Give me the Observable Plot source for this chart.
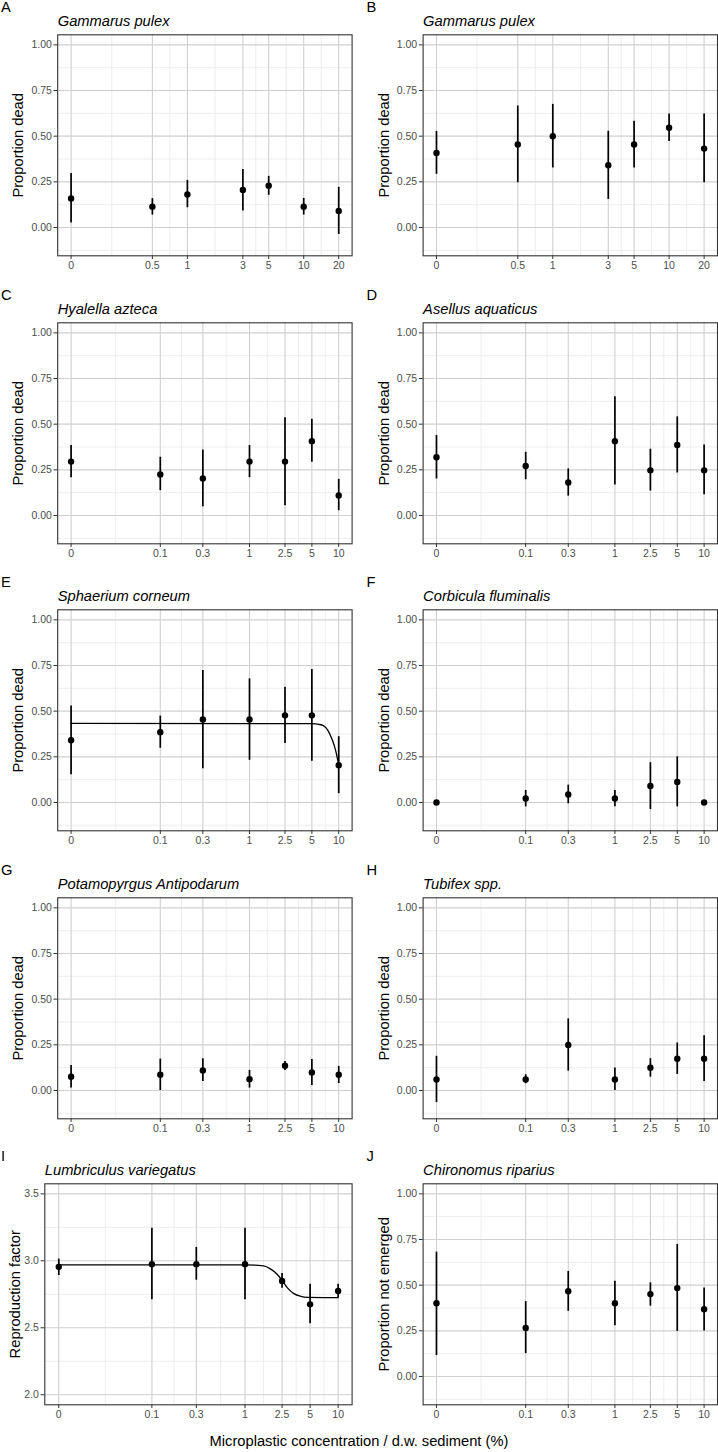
<!DOCTYPE html>
<html><head><meta charset="utf-8">
<script src="https://cdn.jsdelivr.net/npm/d3@7"></script>
<script src="https://cdn.jsdelivr.net/npm/@observablehq/plot@0.6"></script>
<style>
body{margin:0;background:#fff;}
#fig{position:relative;width:718px;height:1452px;background:#fff;font-family:"Liberation Sans",Arial,Helvetica,sans-serif;overflow:hidden;}
.cell{position:absolute;}
#xtitle{position:absolute;left:0;width:718px;text-align:center;font-size:14.7px;line-height:14.7px;color:#000;}
</style></head><body><div id="fig"></div>
<script>
// ---------- data ----------
const concAB = [0, 0.5, 1, 3, 5, 10, 20];
const concCJ = [0, 0.1, 0.3, 1, 2.5, 5, 10];
const xTickLabelsAB = ["0", "0.5", "1", "3", "5", "10", "20"];
const xTickLabelsCJ = ["0", "0.1", "0.3", "1", "2.5", "5", "10"];
const yTicksProp = [0, 0.25, 0.5, 0.75, 1];
const yTickLabelsProp = ["0.00", "0.25", "0.50", "0.75", "1.00"];
const yTicksRepro = [2, 2.5, 3, 3.5];
const yTickLabelsRepro = ["2.0", "2.5", "3.0", "3.5"];
const xAxisTitle = "Microplastic concentration / d.w. sediment (%)";

const meanA = [0.159, 0.114, 0.181, 0.205, 0.229, 0.114, 0.090];
const lowA  = [0.024, 0.068, 0.108, 0.090, 0.176, 0.068, -0.038];
const highA = [0.295, 0.158, 0.258, 0.317, 0.280, 0.159, 0.220];

const meanB = [0.408, 0.454, 0.500, 0.341, 0.454, 0.546, 0.432];
const lowB  = [0.291, 0.245, 0.326, 0.154, 0.326, 0.471, 0.245];
const highB = [0.526, 0.665, 0.674, 0.527, 0.582, 0.621, 0.621];

const meanC = [0.295, 0.225, 0.203, 0.295, 0.295, 0.407, 0.110];
const lowC  = [0.207, 0.136, 0.048, 0.207, 0.053, 0.291, 0.026];
const highC = [0.383, 0.319, 0.359, 0.383, 0.535, 0.527, 0.198];

const meanD = [0.319, 0.271, 0.181, 0.407, 0.247, 0.386, 0.247];
const lowD  = [0.200, 0.196, 0.106, 0.167, 0.134, 0.233, 0.114];
const highD = [0.438, 0.346, 0.255, 0.650, 0.363, 0.540, 0.386];

const meanE = [0.341, 0.385, 0.455, 0.455, 0.477, 0.477, 0.204];
const lowE  = [0.152, 0.297, 0.185, 0.231, 0.323, 0.226, 0.048];
const highE = [0.528, 0.473, 0.723, 0.677, 0.631, 0.728, 0.360];

const meanF = [0.000, 0.022, 0.044, 0.022, 0.090, 0.112, 0.000];
const lowF  = [0.000, -0.024, -0.007, -0.024, -0.039, -0.024, 0.000];
const highF = [0.000, 0.066, 0.095, 0.066, 0.218, 0.250, 0.000];

const meanG = [0.075, 0.086, 0.110, 0.062, 0.136, 0.099, 0.086];
const lowG  = [0.013, 0.000, 0.049, 0.013, 0.110, 0.027, 0.038];
const highG = [0.137, 0.172, 0.174, 0.110, 0.159, 0.170, 0.132];

const meanH = [0.060, 0.060, 0.249, 0.060, 0.125, 0.174, 0.174];
const lowH  = [-0.066, 0.037, 0.106, 0.000, 0.073, 0.088, 0.049];
const highH = [0.187, 0.086, 0.392, 0.123, 0.174, 0.260, 0.300];

const meanI = [2.955, 2.975, 2.975, 2.975, 2.850, 2.675, 2.775];
const lowI  = [2.890, 2.710, 2.855, 2.710, 2.795, 2.530, 2.725];
const highI = [3.013, 3.243, 3.100, 3.243, 2.905, 2.825, 2.825];

const meanJ = [0.401, 0.266, 0.467, 0.401, 0.451, 0.484, 0.368];
const lowJ  = [0.115, 0.125, 0.357, 0.278, 0.385, 0.247, 0.249];
const highJ = [0.681, 0.410, 0.575, 0.522, 0.513, 0.723, 0.484];

// fitted curves
const fitE_x = [0, 5, 6, 6.66, 7.5, 8.46, 9.2, 10];
const fitE_y = [0.433, 0.432, 0.428, 0.422, 0.398, 0.343, 0.288, 0.205];
const fitI_x = [0, 1, 1.58, 1.87, 2.21, 2.5, 2.84, 3.35, 3.96, 4.68, 10];
const fitI_y = [2.97, 2.97, 2.962, 2.94, 2.90, 2.855, 2.80, 2.755, 2.735, 2.727, 2.725];

// ---------- layout ----------
const FONT = "Liberation Sans, Arial, Helvetica, sans-serif";
const colLeft = [0, 359];
const colW = 359;
const frameLeft = [57.2, 422.6];
const frameRight = [351.6, 717];
const frameTop = [34.3, 322.3, 609.7, 897, 1183.3];
const frameH = 221;
const marginTop = 34.3, marginBottom = 32;
const TICK = 3.7, PAD = 2.2;

const panels = [
  {letter: "A", title: "Gammarus pulex", ylab: "Proportion dead", conc: concAB, xl: xTickLabelsAB, zero: 0.1, mean: meanA, low: lowA, high: highA},
  {letter: "B", title: "Gammarus pulex", ylab: "Proportion dead", conc: concAB, xl: xTickLabelsAB, zero: 0.1, mean: meanB, low: lowB, high: highB},
  {letter: "C", title: "Hyalella azteca", ylab: "Proportion dead", conc: concCJ, xl: xTickLabelsCJ, zero: 0.01, mean: meanC, low: lowC, high: highC},
  {letter: "D", title: "Asellus aquaticus", ylab: "Proportion dead", conc: concCJ, xl: xTickLabelsCJ, zero: 0.01, mean: meanD, low: lowD, high: highD},
  {letter: "E", title: "Sphaerium corneum", ylab: "Proportion dead", conc: concCJ, xl: xTickLabelsCJ, zero: 0.01, mean: meanE, low: lowE, high: highE, fitX: fitE_x, fitY: fitE_y},
  {letter: "F", title: "Corbicula fluminalis", ylab: "Proportion dead", conc: concCJ, xl: xTickLabelsCJ, zero: 0.01, mean: meanF, low: lowF, high: highF},
  {letter: "G", title: "Potamopyrgus Antipodarum", ylab: "Proportion dead", conc: concCJ, xl: xTickLabelsCJ, zero: 0.01, mean: meanG, low: lowG, high: highG},
  {letter: "H", title: "Tubifex spp.", ylab: "Proportion dead", conc: concCJ, xl: xTickLabelsCJ, zero: 0.01, mean: meanH, low: lowH, high: highH},
  {letter: "I", title: "Lumbriculus variegatus", ylab: "Reproduction factor", conc: concCJ, xl: xTickLabelsCJ, zero: 0.01, mean: meanI, low: lowI, high: highI, fitX: fitI_x, fitY: fitI_y, repro: true},
  {letter: "J", title: "Chironomus riparius", ylab: "Proportion not emerged", conc: concCJ, xl: xTickLabelsCJ, zero: 0.01, mean: meanJ, low: lowJ, high: highJ}
];

const fig = document.getElementById("fig");

panels.forEach((p, k) => {
  const col = k % 2, row = Math.floor(k / 2);
  const fl = p.repro ? 44.3 : frameLeft[col];
  const mL = fl - colLeft[col];
  const mR = colLeft[col] + colW - frameRight[col];
  const H = marginTop + frameH + marginBottom;
  const frameW = colW - mL - mR;

  const xs = p.conc.map(c => c === 0 ? p.zero : c);
  const rows = xs.map((x, i) => ({x, m: p.mean[i], lo: p.low[i], hi: p.high[i]}));
  const l0 = Math.log10(xs[0]), l1 = Math.log10(xs[xs.length - 1]);
  const px = 0.05 * (l1 - l0);
  const xDomain = [10 ** (l0 - px), 10 ** (l1 + px)];

  const yT = p.repro ? yTicksRepro : yTicksProp;
  const yL = p.repro ? yTickLabelsRepro : yTickLabelsProp;
  const yLim = p.repro ? [2, 3.5] : [-0.1, 1];
  const py = 0.05 * (yLim[1] - yLim[0]);
  const yDomain = [yLim[0] - py, yLim[1] + py];
  const step = yT[1] - yT[0];
  const yMinor = [yT[0] - step / 2, ...d3.pairs(yT).map(([a, b]) => (a + b) / 2), yT[yT.length - 1] + step / 2]
    .filter(v => v > yDomain[0] && v < yDomain[1]);
  const xMinor = d3.pairs(xs).map(([a, b]) => Math.sqrt(a * b));

  const xTicks = xs.map((x, i) => ({x, label: p.xl[i]}));
  const yTicks = yT.map((y, i) => ({y, label: yL[i]}));

  const fit = p.fitX ? p.fitX.map((x, i) => ({x: x === 0 ? p.zero : x, y: p.fitY[i]})) : [];

  const chart = Plot.plot({
    width: colW, height: H,
    marginLeft: mL, marginRight: mR, marginTop: marginTop, marginBottom: marginBottom,
    style: {fontFamily: FONT, fontSize: "10.5px", background: "transparent", overflow: "visible", color: "#000"},
    x: {type: "log", domain: xDomain, label: null, axis: null},
    y: {domain: yDomain, label: null, axis: null},
    marks: [
      Plot.ruleX(xMinor, {stroke: "#e8e8e8", strokeWidth: 0.8}),
      Plot.ruleY(yMinor, {stroke: "#e8e8e8", strokeWidth: 0.8}),
      Plot.ruleX(xs, {stroke: "#d0d0d0", strokeWidth: 1.1}),
      Plot.ruleY(yT, {stroke: "#d0d0d0", strokeWidth: 1.1}),
      p.fitX ? Plot.line(fit, {x: "x", y: "y", stroke: "#000", strokeWidth: 1.3, curve: "monotone-x"}) : null,
      Plot.ruleX(rows, {x: "x", y1: "lo", y2: "hi", stroke: "#000", strokeWidth: 1.7}),
      Plot.dot(rows, {x: "x", y: "m", r: 3.2, fill: "#000", stroke: "none"}),
      Plot.frame({stroke: "#333333", strokeWidth: 1.1}),
      // x axis ticks + labels
      Plot.tickX(xTicks, {x: "x", insetTop: frameH, insetBottom: -TICK, stroke: "#333333", strokeWidth: 1}),
      Plot.text(xTicks, {x: "x", text: "label", frameAnchor: "bottom", lineAnchor: "top", dy: TICK + PAD, fontSize: 10.5, fill: "#4d4d4d"}),
      // y axis ticks + labels
      Plot.tickY(yTicks, {y: "y", insetRight: frameW, insetLeft: -TICK, stroke: "#333333", strokeWidth: 1}),
      Plot.text(yTicks, {y: "y", text: "label", frameAnchor: "left", textAnchor: "end", lineAnchor: "middle", dx: -(TICK + PAD), fontSize: 10.5, fill: "#4d4d4d"}),
      // titles
      Plot.text([p.title], {frameAnchor: "top-left", textAnchor: "start", lineAnchor: "bottom", dy: -8.8, fontSize: 14.7, fontStyle: "italic", fill: "#000"}),
      Plot.text([p.letter], {frameAnchor: "top-left", textAnchor: "start", lineAnchor: "bottom", dx: (col === 0 ? 0.5 : 366) - fl, dy: -22.6, fontSize: 14.7, fill: "#000"}),
      Plot.text([p.ylab], {frameAnchor: "left", rotate: -90, textAnchor: "middle", lineAnchor: "middle", dx: p.repro ? -29.3 : -39, fontSize: 14.7, fill: "#000"})
    ]
  });
  const wrap = document.createElement("div");
  wrap.className = "cell";
  wrap.style.left = colLeft[col] + "px";
  wrap.style.top = (frameTop[row] - marginTop) + "px";
  wrap.appendChild(chart);
  fig.appendChild(wrap);
});

const xt = document.createElement("div");
xt.id = "xtitle";
xt.style.top = "1433.6px";
xt.textContent = xAxisTitle;
fig.appendChild(xt);
</script></body></html>
